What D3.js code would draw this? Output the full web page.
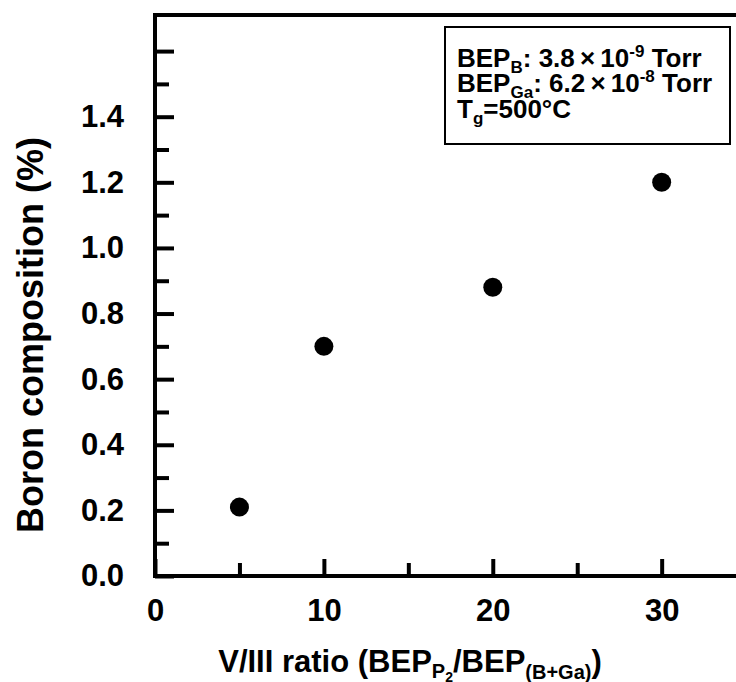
<!DOCTYPE html>
<html>
<head>
<meta charset="utf-8">
<script src="https://cdn.jsdelivr.net/npm/d3@7"></script>
<style>
  html, body { margin: 0; padding: 0; background: #fff; }
  svg { display: block; }
  text { font-family: "Liberation Sans", Arial, sans-serif; font-weight: bold; fill: #000; }
</style>
</head>
<body>
<div id="chart"></div>
<script>
// data
const ratio = [5, 10, 20, 30];
const boron = [0.21, 0.70, 0.88, 1.20];

const xMajor = [0, 10, 20, 30];
const xMinor = [5, 15, 25, 35];
const yMajor = [0, 0.2, 0.4, 0.6, 0.8, 1.0, 1.2, 1.4, 1.6];
const yMinor = [0.1, 0.3, 0.5, 0.7, 0.9, 1.1, 1.3, 1.5];
const yLabels = ["0.0", "0.2", "0.4", "0.6", "0.8", "1.0", "1.2", "1.4"];

const width = 736, height = 682;

const x = d3.scaleLinear().domain([0, 36]).range([155, 763]);
const y = d3.scaleLinear().domain([0, 1.71]).range([576, 15]);

const svg = d3.select("#chart").append("svg")
	.attr("width", width)
	.attr("height", height);

// frame (right side runs past the picture edge)
svg.append("rect")
	.attr("x", x(0)).attr("y", y.range()[1])
	.attr("width", x(36) - x(0))
	.attr("height", y(0) - y.range()[1])
	.attr("fill", "none")
	.attr("stroke", "#000")
	.attr("stroke-width", 4);

// x axis: inward ticks
const gx = svg.append("g").attr("transform", `translate(0,${y(0)})`);
gx.append("g")
	.call(d3.axisBottom(x).tickValues(xMinor).tickSize(-13).tickFormat(""));
gx.append("g")
	.call(d3.axisBottom(x).tickValues(xMajor).tickSize(-17).tickPadding(23)
		.tickFormat(d3.format("d")));

// y axis
const gy = svg.append("g").attr("transform", `translate(${x(0)},0)`);
gy.append("g")
	.call(d3.axisLeft(y).tickValues(yMinor).tickSize(-14).tickFormat(""));
gy.append("g")
	.call(d3.axisLeft(y).tickValues(yMajor).tickSize(-19).tickPadding(31)
		.tickFormat((d, i) => yLabels[i] || ""));

svg.selectAll(".domain").remove();
svg.selectAll(".tick line").attr("stroke", "#000").attr("stroke-width", 4);
svg.selectAll(".tick text")
	.attr("font-size", 31)
	.attr("font-family", null)
	.attr("fill", "#000");

// points
svg.append("g")
	.selectAll("circle")
	.data(ratio)
	.join("circle")
	.attr("cx", d => x(d))
	.attr("cy", (d, i) => y(boron[i]))
	.attr("r", 9.5)
	.attr("fill", "#000");

// x title
const xt = svg.append("text")
	.attr("x", 410).attr("y", 672)
	.attr("text-anchor", "middle")
	.attr("font-size", 31);
xt.append("tspan").text("V/III ratio (BEP");
xt.append("tspan").attr("font-size", 20).attr("dy", 6).text("P");
xt.append("tspan").attr("font-size", 14).attr("dy", 4).text("2");
xt.append("tspan").attr("dy", -10).text("/BEP");
xt.append("tspan").attr("font-size", 20).attr("dy", 7).text("(B+Ga)");
xt.append("tspan").attr("dy", -7).text(")");

// y title
svg.append("text")
	.attr("transform", `translate(43,335) rotate(-90)`)
	.attr("text-anchor", "middle")
	.attr("font-size", 36)
	.text("Boron composition (%)");

// legend box
svg.append("rect")
	.attr("x", 445).attr("y", 27)
	.attr("width", 285).attr("height", 117)
	.attr("fill", "#fff")
	.attr("stroke", "#000")
	.attr("stroke-width", 2);

const lg = svg.append("g");
const l1 = lg.append("text").attr("x", 457).attr("y", 67).attr("font-size", 26);
l1.append("tspan").text("BEP");
l1.append("tspan").attr("font-size", 17).attr("dy", 6).text("B");
l1.append("tspan").attr("dy", -6).text(": 3.8\u2009\u00d7\u200910");
l1.append("tspan").attr("font-size", 17).attr("dy", -10).text("-9");
l1.append("tspan").attr("dy", 10).text(" Torr");

const l2 = lg.append("text").attr("x", 457).attr("y", 92).attr("font-size", 26);
l2.append("tspan").text("BEP");
l2.append("tspan").attr("font-size", 17).attr("dy", 6).text("Ga");
l2.append("tspan").attr("dy", -6).text(": 6.2\u2009\u00d7\u200910");
l2.append("tspan").attr("font-size", 17).attr("dy", -10).text("-8");
l2.append("tspan").attr("dy", 10).text(" Torr");

const l3 = lg.append("text").attr("x", 457).attr("y", 118).attr("font-size", 26);
l3.append("tspan").text("T");
l3.append("tspan").attr("font-size", 17).attr("dy", 6).text("g");
l3.append("tspan").attr("dy", -6).text("=500\u00b0C");
</script>
</body>
</html>
